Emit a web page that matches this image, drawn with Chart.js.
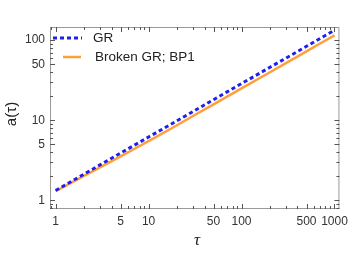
<!DOCTYPE html>
<html>
<head>
<meta charset="utf-8">
<script src="https://cdn.jsdelivr.net/npm/chart.js@4"></script>
<style>
  html, body { margin: 0; padding: 0; background: #fff; }
  #wrap { width: 353px; height: 254px; }
</style>
</head>
<body>
<div id="wrap"><canvas id="aChart" width="353" height="254"></canvas></div>
<script>
// data
const tau = [1, 1.5, 2, 3, 5, 7, 10, 20, 30, 50, 70, 100, 200, 300, 500, 700, 1000]
const a_gr = [1.33, 1.74, 2.11, 2.77, 3.89, 4.87, 6.17, 9.8, 12.84, 18.05, 22.6, 28.7, 45.5, 59.6, 83.8, 104.8, 133]
const a_broken = [1.3, 1.68, 2.01, 2.58, 3.55, 4.38, 5.5, 8.6, 11.3, 15.8, 19.7, 25.0, 39.5, 51.8, 72.6, 90.8, 115]
const x_ticks = [1, 5, 10, 50, 100, 500, 1000]
const y_ticks = [1, 5, 10, 50, 100]

const toPoints = (xs, ys) => xs.map((x, i) => ({ x: x, y: ys[i] }))

// minor tick values for a log axis
const minorValues = (min, max) => {
  let out = []
  for (let d = 0.1; d <= 10000; d *= 10) {
    for (let m = 1; m < 10; m++) {
      let v = Math.round(m * d * 1000) / 1000
      if (v >= min && v <= max) out.push(v)
    }
  }
  return out
}

const framePlugin = {
  id: 'frame',
  afterDraw(chart) {
    const ctx = chart.ctx
    const area = chart.chartArea
    const xs = chart.scales.x
    const ys = chart.scales.y
    ctx.save()
    ctx.strokeStyle = '#9a9a9a'
    ctx.lineWidth = 1
    ctx.strokeRect(area.left + 0.5, area.top + 0.5, area.right - area.left - 1, area.bottom - area.top - 1)

    ctx.strokeStyle = '#555'
    ctx.beginPath()
    minorValues(xs.min, xs.max).forEach(v => {
      let px = Math.round(xs.getPixelForValue(v)) + 0.5
      let len = x_ticks.includes(v) ? 5 : 3
      ctx.moveTo(px, area.bottom); ctx.lineTo(px, area.bottom - len)
      ctx.moveTo(px, area.top); ctx.lineTo(px, area.top + len)
    })
    minorValues(ys.min, ys.max).forEach(v => {
      let py = Math.round(ys.getPixelForValue(v)) + 0.5
      let len = y_ticks.includes(v) ? 5 : 3
      ctx.moveTo(area.left, py); ctx.lineTo(area.left + len, py)
      ctx.moveTo(area.right, py); ctx.lineTo(area.right - len, py)
    })
    ctx.stroke()

    // axis titles
    ctx.fillStyle = '#222'
    ctx.font = '15px "Liberation Sans", Arial, sans-serif'
    ctx.textAlign = 'center'
    ctx.textBaseline = 'middle'
    ctx.save()
    ctx.translate(12, 114)
    ctx.rotate(-Math.PI / 2)
    ctx.fillText('a(\u03c4)', 0, 0)
    ctx.restore()
    ctx.font = 'italic 17px "Liberation Serif", "Times New Roman", serif'
    ctx.fillText('\u03c4', 197, 241)

    // legend inside the plot
    ctx.font = '13.5px "Liberation Sans", Arial, sans-serif'
    ctx.textAlign = 'left'
    const sets = chart.data.datasets
    const rows = [
      { x1: area.left + 3, x2: area.left + 32, tx: area.left + 43, y: area.top + 11 },
      { x1: area.left + 13, x2: area.left + 31, tx: area.left + 45, y: area.top + 30 }
    ]
    rows.forEach((r, i) => {
      const ds = sets[i]
      ctx.strokeStyle = ds.borderColor
      ctx.lineWidth = ds.borderWidth
      ctx.setLineDash(ds.borderDash || [])
      ctx.beginPath()
      ctx.moveTo(r.x1, r.y); ctx.lineTo(r.x2, r.y)
      ctx.stroke()
      ctx.setLineDash([])
      ctx.fillStyle = '#222'
      ctx.fillText(ds.label, r.tx, r.y)
    })
    ctx.restore()
  }
}

const initChart = () => {
  const ctx = document.getElementById('aChart').getContext('2d')

  let scales_chart = {
    x: {
      type: 'logarithmic',
      min: 0.87,
      max: 1130,
      afterBuildTicks: (scale) => { scale.ticks = x_ticks.map(v => ({ value: v })) },
      afterFit: (scale) => { scale.height = 45 },
      grid: { display: false, drawTicks: false },
      border: { display: false },
      ticks: {
        color: '#333',
        padding: 5,
        maxRotation: 0,
        autoSkip: false,
        font: { family: '"Liberation Sans", Arial, sans-serif', size: 12 },
        callback: function(value) { return String(value) }
      }
    },
    y: {
      type: 'logarithmic',
      min: 0.78,
      max: 146,
      afterBuildTicks: (scale) => { scale.ticks = y_ticks.map(v => ({ value: v })) },
      afterFit: (scale) => { scale.width = 50 },
      grid: { display: false, drawTicks: false },
      border: { display: false },
      ticks: {
        color: '#333',
        padding: 5,
        autoSkip: false,
        font: { family: '"Liberation Sans", Arial, sans-serif', size: 12 },
        callback: function(value) { return String(value) }
      }
    }
  }

  chart = new Chart(ctx, {
    type: 'line',
    data: {
      datasets: [
        {
          label: 'GR',
          data: toPoints(tau, a_gr),
          borderColor: '#1f1fee',
          borderWidth: 3,
          borderDash: [4, 3],
          pointRadius: 0,
          fill: false
        },
        {
          label: 'Broken GR; BP1',
          data: toPoints(tau, a_broken),
          borderColor: '#ff9f3a',
          borderWidth: 2.5,
          pointRadius: 0,
          fill: false
        }
      ]
    },
    options: {
      responsive: false,
      animation: false,
      layout: { padding: { left: 0, top: 27, right: 10, bottom: 0 } },
      plugins: {
        legend: { display: false },
        tooltip: { enabled: false }
      },
      scales: scales_chart
    },
    plugins: [framePlugin]
  })
}

initChart()
</script>
</body>
</html>
